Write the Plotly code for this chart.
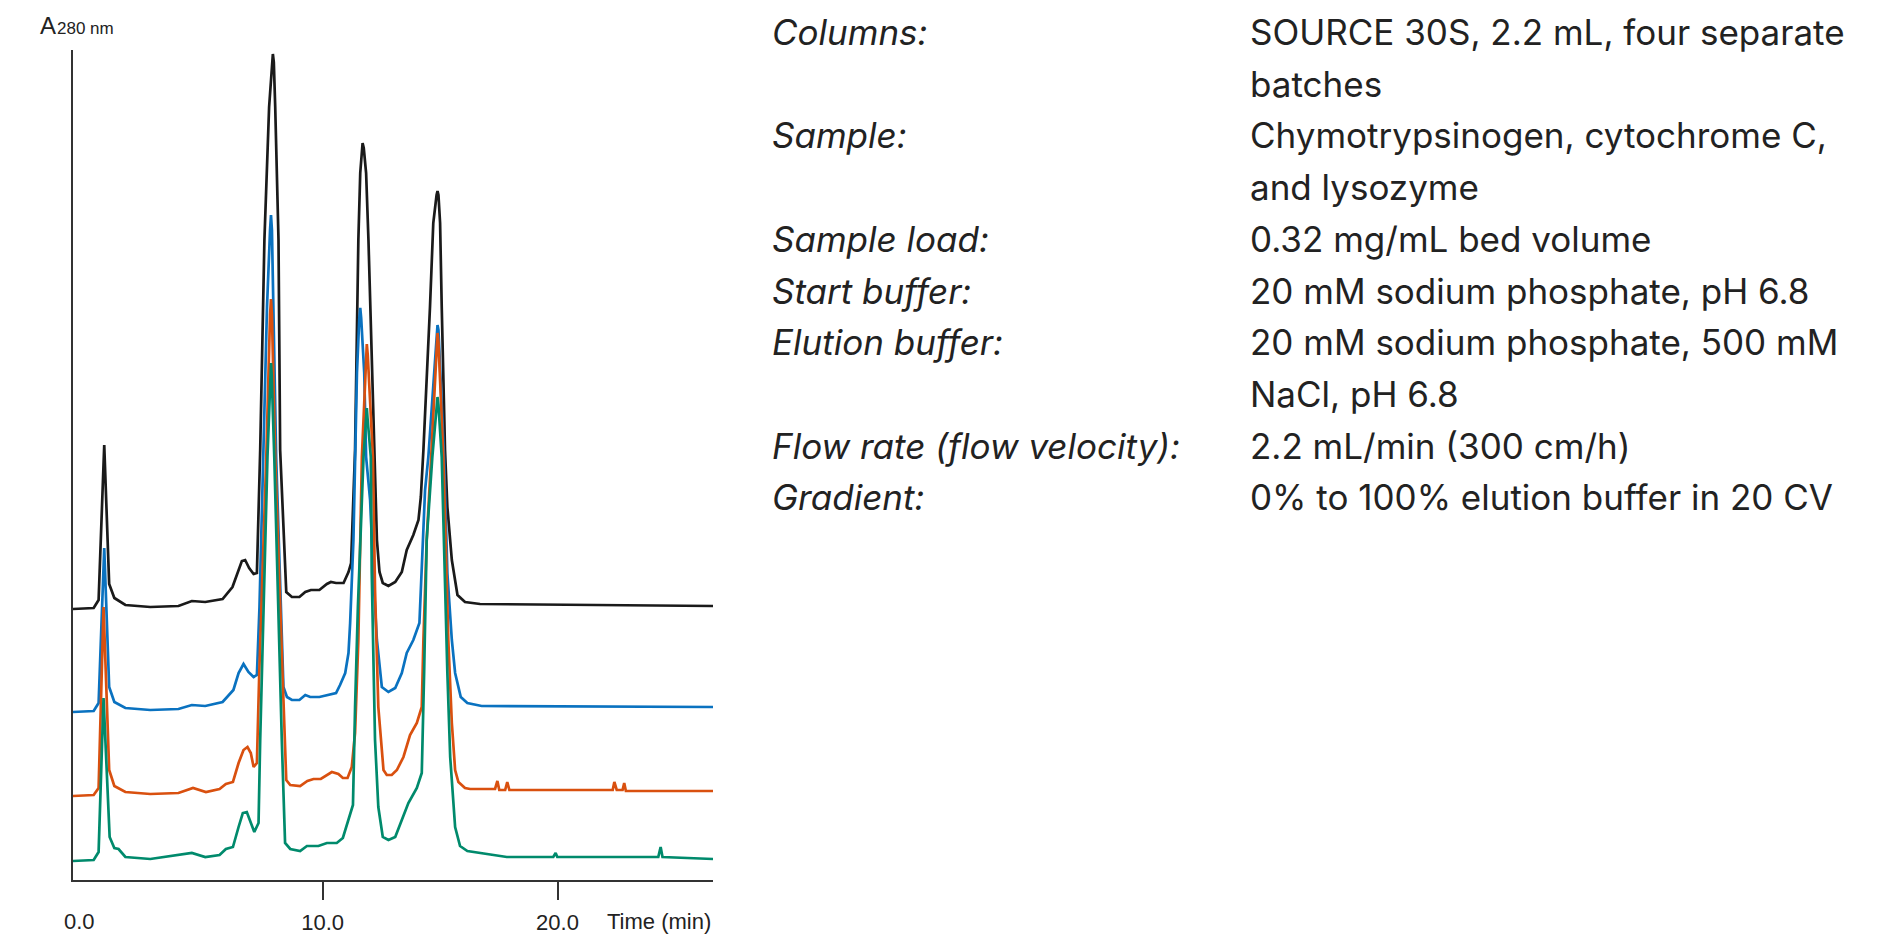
import plotly.graph_objects as go

# four batches of SOURCE 30S, traces stacked as in the figure (time in min, A280 in arbitrary units)
time_black = [-0.63, 0.25, 0.46, 0.70, 0.91, 1.13, 1.60, 2.66, 3.86, 4.43, 5.00, 5.74, 6.16, 6.56,
              6.70, 6.87, 7.06, 7.20, 7.34, 7.52, 7.72, 7.84, 7.88, 7.92, 7.98, 8.12, 8.19, 8.45,
              8.69, 9.01, 9.26, 9.50, 9.86, 10.18, 10.35, 10.57, 10.89, 11.10, 11.21, 11.38, 11.52,
              11.60, 11.66, 11.70, 11.75, 11.85, 11.95, 12.19, 12.31, 12.42, 12.56, 12.80, 13.09,
              13.37, 13.58, 13.86, 14.08, 14.18, 14.29, 14.57, 14.71, 14.85, 14.89, 14.93, 15.00,
              15.07, 15.21, 15.31, 15.50, 15.74, 16.06, 16.70, 26.62]
abs_black = [271, 272, 280, 435, 296, 282, 275, 273, 274, 279, 278, 281, 293, 319,
             320, 312, 306, 307, 430, 640, 773, 818, 826, 818, 773, 640, 430, 288,
             283, 283, 288, 290, 290, 296, 298, 297, 297, 308, 317, 430, 640,
             707, 732, 737, 732, 707, 640, 423, 340, 308, 297, 294, 298,
             308, 330, 345, 360, 383, 430, 573, 657, 685, 689, 685, 657,
             573, 430, 373, 320, 285, 278, 276, 274]

time_blue = [-0.63, 0.25, 0.46, 0.70, 0.91, 1.13, 1.60, 2.66, 3.86, 4.43, 5.00, 5.74, 6.20, 6.42,
             6.63, 6.84, 7.06, 7.20, 7.31, 7.48, 7.63, 7.76, 7.80, 7.84, 7.91, 8.02, 8.33, 8.48,
             8.69, 9.01, 9.26, 9.47, 9.86, 10.57, 10.74, 10.96, 11.10, 11.17, 11.31, 11.38, 11.46,
             11.56, 11.60, 11.64, 11.77, 11.85, 12.02, 12.19, 12.31, 12.52, 12.80, 13.09, 13.37,
             13.58, 13.86, 14.12, 14.22, 14.36, 14.50, 14.85, 14.89, 14.93, 15.17, 15.31, 15.50,
             15.64, 15.88, 16.16, 16.77, 26.62]
abs_blue = [168, 169, 177, 332, 193, 178, 172, 170, 171, 175, 174, 178, 190, 207,
            216, 208, 203, 205, 273, 423, 573, 650, 665, 650, 573, 423, 193, 183,
            180, 180, 185, 183, 183, 187, 195, 207, 227, 257, 340, 423, 507,
            562, 572, 562, 507, 423, 380, 290, 240, 193, 188, 192, 207,
            227, 240, 257, 307, 390, 423, 550, 555, 550, 423, 307, 240,
            207, 183, 177, 174, 173]

time_orange = [-0.63, 0.25, 0.46, 0.67, 0.91, 1.13, 1.60, 2.66, 3.86, 4.48, 5.03, 5.61, 5.88, 6.18,
               6.42, 6.63, 6.80, 6.94, 7.06, 7.20, 7.30, 7.60, 7.76, 7.80, 7.84, 7.98, 8.29, 8.45,
               8.62, 9.04, 9.35, 9.61, 9.92, 10.39, 10.67, 10.86, 11.06, 11.24, 11.38, 11.52, 11.67,
               11.84, 11.88, 11.92, 12.14, 12.23, 12.37, 12.59, 12.73, 12.94, 13.16, 13.44, 13.72,
               14.01, 14.22, 14.29, 14.43, 14.62, 14.85, 14.89, 14.93, 15.14, 15.35, 15.50, 15.64,
               15.78, 16.06, 16.28, 17.34, 17.44, 17.52, 17.77, 17.86, 17.95, 22.35, 22.42, 22.52,
               22.77, 22.84, 22.91, 26.62]
abs_orange = [84, 85, 92, 273, 110, 94, 88, 86, 87, 92, 88, 91, 96, 98,
              117, 130, 133, 127, 113, 117, 207, 423, 565, 581, 565, 423, 207, 100,
              95, 94, 99, 101, 101, 108, 106, 102, 102, 113, 147, 240, 423,
              525, 536, 525, 423, 290, 173, 110, 105, 105, 110, 123, 145,
              157, 173, 240, 340, 423, 538, 547, 538, 423, 240, 157, 110,
              98, 92, 91, 91, 99, 90, 90, 98, 90, 90, 98, 90,
              90, 97, 89, 89]

time_green = [-0.63, 0.25, 0.46, 0.67, 0.93, 1.13, 1.31, 1.60, 2.66, 4.43, 5.00, 5.61, 5.88, 6.18,
              6.42, 6.60, 6.77, 6.94, 7.09, 7.27, 7.34, 7.65, 7.77, 7.80, 7.83, 7.94, 8.26, 8.40,
              8.62, 9.04, 9.33, 9.82, 10.18, 10.60, 10.86, 11.06, 11.29, 11.38, 11.50, 11.74, 11.85,
              11.88, 11.91, 12.05, 12.09, 12.23, 12.37, 12.56, 12.80, 13.09, 13.37, 13.65, 14.01,
              14.22, 14.32, 14.43, 14.67, 14.85, 14.89, 14.93, 15.07, 15.31, 15.43, 15.64, 15.85,
              16.16, 16.99, 17.84, 19.82, 19.92, 19.99, 24.29, 24.39, 24.47, 26.62]
abs_green = [19, 20, 28, 182, 43, 32, 31, 23, 21, 27, 23, 25, 31, 33,
             53, 67, 68, 57, 48, 57, 140, 423, 505, 517, 505, 423, 140, 37,
             31, 29, 34, 34, 37, 37, 42, 57, 75, 173, 273, 423, 462,
             472, 462, 423, 307, 140, 73, 43, 40, 43, 60, 77, 92,
             107, 207, 340, 423, 475, 483, 475, 423, 207, 123, 53, 34,
             29, 26, 23, 23, 27, 23, 23, 33, 23, 21]

x_ticks = [10, 20]
x_ticktext = ['10.0', '20.0']

param_labels = ['Columns:', '', 'Sample:', '', 'Sample load:', 'Start buffer:',
                'Elution buffer:', '', 'Flow rate (flow velocity):', 'Gradient:']
param_values = ['SOURCE 30S, 2.2 mL, four separate', 'batches',
                'Chymotrypsinogen, cytochrome C,', 'and lysozyme',
                '0.32 mg/mL bed volume', '20 mM sodium phosphate, pH 6.8',
                '20 mM sodium phosphate, 500 mM', 'NaCl, pH 6.8',
                '2.2 mL/min (300 cm/h)', '0% to 100% elution buffer in 20 CV']

series = [
    (time_black, abs_black, '#1a1a1a'),
    (time_blue, abs_blue, '#0a72c0'),
    (time_orange, abs_orange, '#d9500f'),
    (time_green, abs_green, '#008a6c'),
]

# the page body has an 8px margin, so the figure sits 8px in from the window corner
OFF = 8
W, H = 1902 - 2 * OFF, 942 - 2 * OFF
L, R, T, B = 73 - OFF, 713 - OFF, 50 - OFF, 880 - OFF  # plot area, figure pixels


def px(x):
    # window pixel -> paper x
    return (x - OFF - L) / (R - L)


def py(y):
    # window pixel -> paper y
    return (B - (y - OFF)) / (B - T)


fig = go.Figure()
for t, a, c in series:
    fig.add_trace(go.Scatter(x=t, y=a, mode='lines', line=dict(color=c, width=2.7),
                             showlegend=False, hoverinfo='skip'))

ink = '#222222'
axis_font = dict(family='Liberation Sans, Arial, sans-serif', size=22, color=ink)
text_font = dict(family='Inter, Noto Sans, sans-serif', size=35, color=ink)

annotations = [
    dict(text='A', x=px(38), y=py(25), xanchor='left', yanchor='middle',
         font=dict(family='Liberation Sans, Arial, sans-serif', size=24, color=ink)),
    dict(text='280 nm', x=px(55), y=py(29), xanchor='left', yanchor='middle',
         font=dict(family='Liberation Sans, Arial, sans-serif', size=17, color=ink)),
    dict(text='0.0', x=px(79), y=py(921), xanchor='center', yanchor='middle', font=axis_font),
    dict(text='Time (min)', x=px(659), y=py(921), xanchor='center', yanchor='middle',
         font=axis_font),
]
for i, (lab, val) in enumerate(zip(param_labels, param_values)):
    yc = 32 + 51.7 * i
    if lab:
        annotations.append(dict(text=f'<i>{lab}</i>', x=px(770), y=py(yc), xanchor='left',
                                yanchor='middle', font=text_font))
    annotations.append(dict(text=val, x=px(1248), y=py(yc), xanchor='left',
                            yanchor='middle', font=text_font))
for a in annotations:
    a.update(xref='paper', yref='paper', showarrow=False)

fig.update_layout(
    width=W, height=H,
    margin=dict(l=L, r=W - R, t=T, b=H - B, pad=0),
    paper_bgcolor='white', plot_bgcolor='white',
    annotations=annotations,
    xaxis=dict(range=[-0.63, 26.62], showgrid=False, zeroline=False, showline=True,
               linecolor='#333333', linewidth=2, ticks='outside', ticklen=18, tickwidth=2,
               tickcolor='#333333', tickvals=x_ticks, ticktext=x_ticktext,
               ticklabelstandoff=4, automargin=False, tickfont=axis_font),
    yaxis=dict(range=[0, 830], showgrid=False, zeroline=False, showline=True,
               linecolor='#333333', linewidth=2, showticklabels=False, ticks='',
               automargin=False),
)

fig.write_html('out.html')
